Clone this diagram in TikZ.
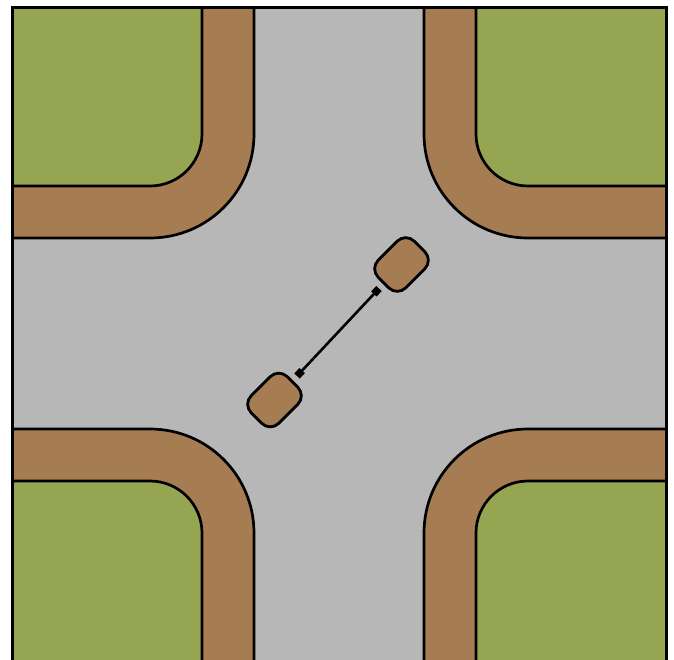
\documentclass[tikz,border=0pt]{standalone}
\usetikzlibrary{arrows.meta}
\definecolor{grass}{HTML}{95A552}
\definecolor{verge}{HTML}{A67C52}
\definecolor{road}{HTML}{B7B7B7}
\tikzset{
  edge line/.style={draw=black,line width=2.7pt},
  vehicle/.style={draw=black,fill=verge,line width=2.8pt,rectangle,rounded corners=12pt,
    rotate=45,minimum width=51pt,minimum height=39pt,inner sep=0pt},
  gap link/.style={line width=2.6pt,{Square[length=7.5pt,width=7.5pt]}-{Square[length=7.5pt,width=7.5pt]},shorten <=6pt,shorten >=6pt}
}
\begin{document}
\begin{tikzpicture}[x=1pt,y=-1pt]
\useasboundingbox (0,0) rectangle (674,659);
\fill[white] (0,0) rectangle (674,659);
\fill[road] (12,7) rectangle (666,660);
\foreach \sx/\sy in {1/1,-1/1,1/-1,-1/-1}{
  \begin{scope}[shift={(339,333.5)},xscale=\sx,yscale=\sy]
    \fill[verge] (-327,-326.5) -- (-85,-326.5) -- (-85,-199.5)
      .. controls (-85,-142) and (-131.4,-95.5) .. (-189,-95.5) -- (-327,-95.5) -- cycle;
    \fill[grass] (-327,-326.5) -- (-137,-326.5) -- (-137,-199.5)
      .. controls (-137,-170.8) and (-160.3,-147.5) .. (-189,-147.5) -- (-327,-147.5) -- cycle;
    \draw[edge line] (-85,-326.5) -- (-85,-199.5)
      .. controls (-85,-142) and (-131.4,-95.5) .. (-189,-95.5) -- (-327,-95.5);
    \draw[edge line] (-137,-326.5) -- (-137,-199.5)
      .. controls (-137,-170.8) and (-160.3,-147.5) .. (-189,-147.5) -- (-327,-147.5);
  \end{scope}
}
\draw[edge line,line width=3pt] (12,660) -- (12,7) -- (666,7) -- (666,660);
\node[vehicle] (rear) at (274.5,400) {};
\node[vehicle] (front) at (401.5,264.5) {};
\draw[gap link] (rear) -- (front);
\end{tikzpicture}
\end{document}
